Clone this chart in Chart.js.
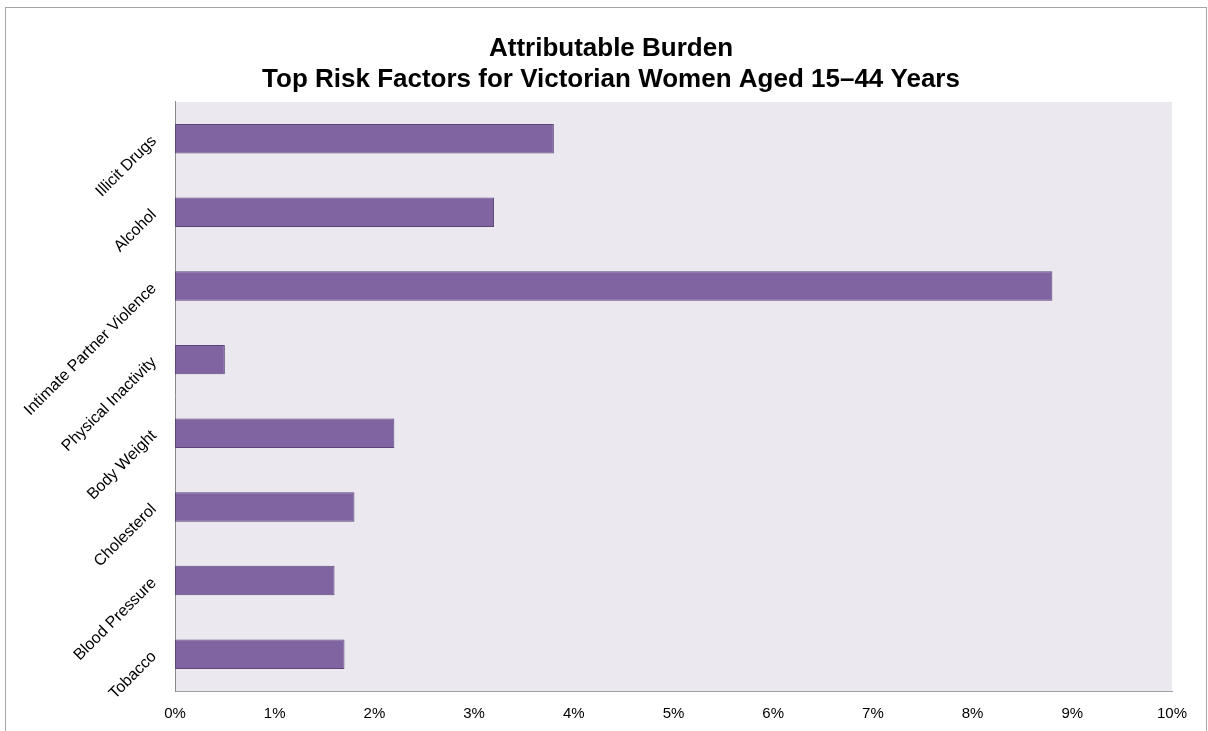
<!DOCTYPE html>
<html>
<head>
<meta charset="utf-8">
<script src="https://cdn.jsdelivr.net/npm/chart.js@4.4.0/dist/chart.umd.min.js"></script>
<style>
  html, body { margin: 0; padding: 0; background: #fff; overflow: hidden; }
  #frame { position: absolute; left: 5px; top: 7px; width: 1202px; height: 740px; border: 1px solid #a6a6a6; box-sizing: border-box; }
  #myChart { position: absolute; left: 0; top: 0; }
</style>
</head>
<body>
<div id="frame"></div>
<canvas id="myChart" width="1208" height="731"></canvas>
<script>
const riskFactors = ["Illicit Drugs", "Alcohol", "Intimate Partner Violence", "Physical Inactivity",
  "Body Weight", "Cholesterol", "Blood Pressure", "Tobacco"];
const burdenPct = [3.8, 3.2, 8.8, 0.5, 2.2, 1.8, 1.6, 1.7];
const titleLines = ["Attributable Burden", "Top Risk Factors for Victorian Women Aged 15\u201344 Years"];

// fill plot area lavender
const plotBg = {
  id: "plotBg",
  beforeDraw(chart) {
    const { ctx, chartArea: a } = chart;
    ctx.save();
    ctx.fillStyle = "#ebe9ef";
    ctx.fillRect(a.left, a.top, a.right - a.left, a.bottom - a.top);
    ctx.restore();
  }
};

const font = "'Liberation Sans', Arial, sans-serif";

new Chart(document.getElementById("myChart").getContext("2d"), {
  type: "bar",
  data: {
    labels: riskFactors,
    datasets: [{
      data: burdenPct,
      backgroundColor: "#8064a2",
      borderColor: "#5b4679",
      borderWidth: 1,
      borderSkipped: false,
      categoryPercentage: 1,
      barPercentage: 0.4
    }]
  },
  options: {
    indexAxis: "y",
    responsive: false,
    animation: false,
    layout: { padding: { left: 15, right: 1, top: 0, bottom: 0 } },
    plugins: {
      legend: { display: false },
      tooltip: { enabled: false },
      title: {
        display: true,
        text: titleLines,
        color: "#000",
        font: { family: font, size: 26, weight: "bold", lineHeight: 1.19 },
        padding: { top: 33, bottom: 7 }
      }
    },
    scales: {
      x: {
        min: 0, max: 10,
        grid: { display: false, drawTicks: false },
        border: { display: true, color: "#a0a0a0", width: 1 },
        ticks: {
          stepSize: 1, padding: 14, color: "#000",
          font: { family: font, size: 15 },
          callback: v => v + "%"
        },
        afterFit(scale) {
          scale.height = 40;
          scale.paddingRight = 36; // keeps plot right edge at 1172 while title spans wide
        }
      },
      y: {
        grid: { display: false, drawTicks: false },
        border: { display: true, color: "#8a8a8a", width: 1 },
        ticks: {
          padding: 21, color: "#000", minRotation: 45, maxRotation: 45,
          font: { family: font, size: 16 }
        },
        afterFit(scale) {
          scale.width = 160;
          scale.paddingTop = 0;
          scale.paddingBottom = 0;
        }
      }
    }
  },
  plugins: [plotBg]
});
</script>
</body>
</html>
